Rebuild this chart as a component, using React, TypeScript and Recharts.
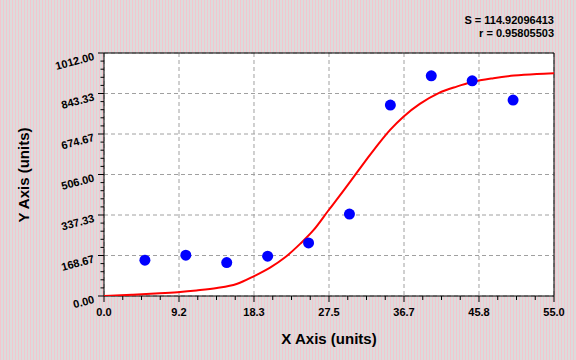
import React from 'react';
import { ComposedChart, Line, Scatter, XAxis, YAxis, CartesianGrid, ReferenceArea } from 'recharts';

const sampleX = [5, 10, 15, 20, 25, 30, 35, 40, 45, 50];
const sampleY = [149, 170, 139, 166, 221, 341, 795, 917, 896, 816];

const curveX = [0, 3.4, 6.8, 9.0, 11.3, 13.8, 16.2, 18.4, 20.3, 22.1, 24.0, 25.6, 27.4, 29.3, 30.9, 32.3, 33.7, 35.0, 36.6, 38.6, 40.9, 43.1, 45.0, 47.6, 50.1, 52.9, 55];
const curveY = [0, 5, 11, 16, 23, 33, 50, 84, 118, 160, 218, 274, 355, 440, 514, 578, 640, 693, 747, 800, 845, 872, 891, 907, 918, 925, 928];

const xMajorTicks = [0, 9.16667, 18.33333, 27.5, 36.66667, 45.83333, 55];
const xTickLabels = ['0.0', '9.2', '18.3', '27.5', '36.7', '45.8', '55.0'];
const yMajorTicks = [0, 168.66667, 337.33333, 506, 674.66667, 843.33333, 1012];
const yTickLabels = ['0.00', '168.67', '337.33', '506.00', '674.67', '843.33', '1012.00'];

const statS = 'S = 114.92096413';
const statR = 'r = 0.95805503';

const subdivide = (major: number[], parts: number) => {
  const out: number[] = [];
  for (let i = 0; i < major.length - 1; i++) {
    const a = major[i];
    const b = major[i + 1];
    for (let k = 0; k < parts; k++) out.push(a + ((b - a) * k) / parts);
  }
  out.push(major[major.length - 1]);
  return out;
};

const xAllTicks = subdivide(xMajorTicks, 4);
const yAllTicks = subdivide(yMajorTicks, 5);

const pointData = sampleX.map((x, i) => ({ x, y: sampleY[i] }));
const curveData = curveX.map((x, i) => ({ x, y: curveY[i] }));

const FONT = '"Liberation Sans", Arial, Helvetica, sans-serif';

const majorIndex = (arr: number[], v: number) => arr.findIndex((t) => Math.abs(t - v) < 1e-3);

const XTick = (props: any) => {
  const { x, y, payload } = props;
  const mi = majorIndex(xMajorTicks, payload.value);
  const major = mi >= 0;
  return (
    <g>
      <line x1={x} y1={y} x2={x} y2={y + (major ? 6 : 4)} stroke="#000" strokeWidth={1} />
      {major && (
        <text x={x} y={y + 20} textAnchor="middle" fontSize={11} fontWeight="bold" fill="#000" fontFamily={FONT}>
          {xTickLabels[mi]}
        </text>
      )}
    </g>
  );
};

const YTick = (props: any) => {
  const { x, y, payload } = props;
  const mi = majorIndex(yMajorTicks, payload.value);
  const major = mi >= 0;
  const tx = x - 10;
  const ty = y + 3;
  return (
    <g>
      <line x1={x - (major ? 6 : 3.5)} y1={y} x2={x} y2={y} stroke="#000" strokeWidth={1} />
      {major && (
        <text
          x={tx}
          y={ty}
          dy="0.35em"
          textAnchor="end"
          fontSize={11}
          fontWeight="bold"
          fill="#000"
          fontFamily={FONT}
          transform={`rotate(-15, ${tx}, ${ty})`}
        >
          {yTickLabels[mi]}
        </text>
      )}
    </g>
  );
};

export default function App() {
  return (
    <div
      style={{
        position: 'absolute',
        left: 0,
        top: 0,
        width: 576,
        height: 360,
        backgroundColor: '#e2d6d8',
        backgroundImage: 'linear-gradient(90deg, #f3c6ce 0px, #f3c6ce 1px, #dcdcdc 1px, #dcdcdc 3px)',
        backgroundSize: '3px 3px',
        fontFamily: FONT,
        overflow: 'hidden',
      }}
    >
      <div
        style={{
          position: 'absolute',
          right: 22,
          top: 14,
          textAlign: 'right',
          fontSize: 11,
          fontWeight: 'bold',
          lineHeight: '12.5px',
          color: '#000',
        }}
      >
        <div>{statS}</div>
        <div>{statR}</div>
      </div>
      <ComposedChart width={576} height={360} margin={{ top: 53, right: 22, bottom: 0, left: 0 }}>
        <CartesianGrid
          fill="#ffffff"
          stroke="#a0a0a0"
          strokeDasharray="4 3"
          horizontalValues={yMajorTicks}
          verticalValues={xMajorTicks}
        />
        <XAxis
          type="number"
          dataKey="x"
          domain={[0, 55]}
          ticks={xAllTicks}
          interval={0}
          height={64}
          axisLine={false}
          tickLine={false}
          tickSize={0}
          tickMargin={0}
          tick={<XTick />}
          allowDataOverflow
        />
        <YAxis
          type="number"
          dataKey="y"
          domain={[0, 1012]}
          ticks={yAllTicks}
          interval={0}
          width={104}
          axisLine={false}
          tickLine={false}
          tickSize={0}
          tickMargin={0}
          tick={<YTick />}
          allowDataOverflow
        />
        <ReferenceArea x1={0} x2={55} y1={0} y2={1012} fill="none" fillOpacity={0} stroke="#000" strokeWidth={1} ifOverflow="visible" />
        <Scatter
          data={pointData}
          isAnimationActive={false}
          shape={(p: any) => <circle cx={p.cx} cy={p.cy} r={5.5} fill="#0000ff" />}
        />
        <Line
          data={curveData}
          dataKey="y"
          type="monotone"
          stroke="#ff0000"
          strokeWidth={2}
          dot={false}
          activeDot={false}
          isAnimationActive={false}
        />
      </ComposedChart>
      <div
        style={{
          position: 'absolute',
          left: 229,
          width: 200,
          top: 330,
          textAlign: 'center',
          fontSize: 15,
          fontWeight: 'bold',
          lineHeight: '18px',
          color: '#000',
        }}
      >
        X Axis (units)
      </div>
      <div
        style={{
          position: 'absolute',
          left: 23.5 - 100,
          top: 175 - 9,
          width: 200,
          textAlign: 'center',
          fontSize: 15,
          fontWeight: 'bold',
          lineHeight: '18px',
          color: '#000',
          transform: 'rotate(-90deg)',
        }}
      >
        Y Axis (units)
      </div>
    </div>
  );
}
